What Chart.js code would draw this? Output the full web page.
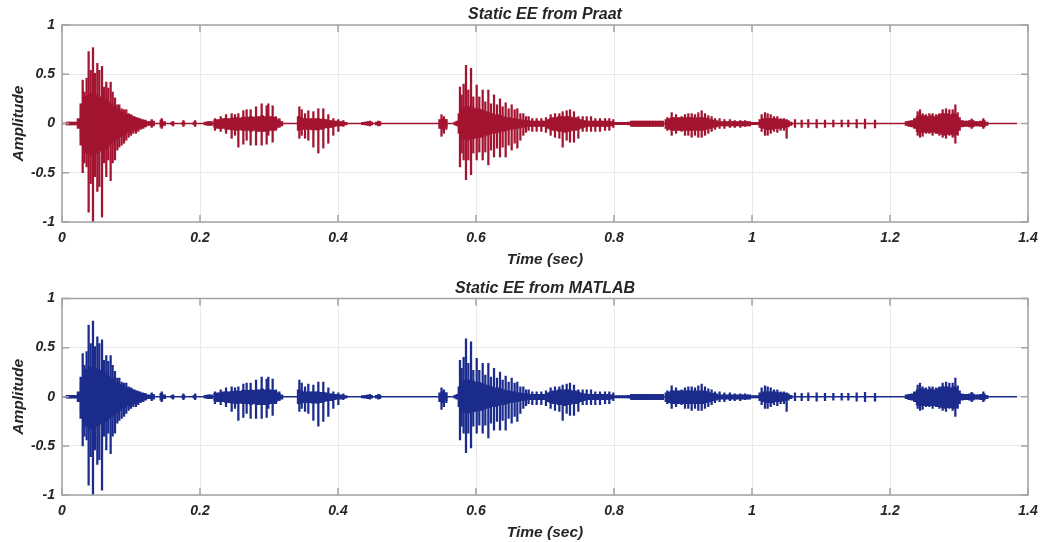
<!DOCTYPE html>
<html>
<head>
<meta charset="utf-8">
<script src="https://cdn.jsdelivr.net/npm/chart.js@4.4.1/dist/chart.umd.min.js"></script>
<style>
  html, body { margin: 0; padding: 0; background: #fff; }
  .panel { position: absolute; left: 0; width: 1040px; height: 271px; }
  #p1 { top: 0; }
  #p2 { top: 271px; }
</style>
</head>
<body>
<div class="panel" id="p1"><canvas id="c1"></canvas></div>
<div class="panel" id="p2"><canvas id="c2"></canvas></div>
<script>
// Axis ticks
const xTicks = [0, 0.2, 0.4, 0.6, 0.8, 1, 1.2, 1.4];
const xTickLabels = ['0', '0.2', '0.4', '0.6', '0.8', '1', '1.2', '1.4'];
const yTicks = [-1, -0.5, 0, 0.5, 1];
const yTickLabels = ['-1', '-0.5', '0', '0.5', '1'];

// Length of the excitation signal (s)
const signalEnd = 1.384;

// Glottal pulses: [time (s), positive peak, negative peak]
const pulses = [
  [0.0275, 0.14, -0.15], [0.0300, 0.44, -0.50], [0.0324, 0.32, -0.40], [0.0357, 0.46, -0.44],
  [0.0386, 0.73, -0.90], [0.0416, 0.54, -0.61], [0.0449, 0.77, -1.00], [0.0478, 0.51, -0.54],
  [0.0512, 0.61, -0.69], [0.0541, 0.54, -0.64], [0.0580, 0.58, -0.95], [0.0609, 0.37, -0.40],
  [0.0642, 0.42, -0.54], [0.0671, 0.36, -0.37], [0.0705, 0.42, -0.58], [0.0734, 0.32, -0.40],
  [0.0768, 0.26, -0.37], [0.0802, 0.19, -0.27], [0.0831, 0.19, -0.24], [0.0865, 0.15, -0.22],
  [0.0899, 0.14, -0.20], [0.0932, 0.14, -0.17], [0.0966, 0.10, -0.14], [0.1000, 0.09, -0.12],
  [0.1034, 0.07, -0.10], [0.1072, 0.05, -0.10], [0.1106, 0.05, -0.08], [0.1140, 0.035, -0.06],
  [0.1179, 0.025, -0.05], [0.1217, 0.018, -0.03],
  [0.1300, 0.04, -0.04], [0.1445, 0.05, -0.05], [0.1610, 0.02, -0.025], [0.1760, 0.03, -0.03],
  [0.1930, 0.03, -0.03],
  [0.2217, 0.05, -0.07], [0.2300, 0.07, -0.08], [0.2377, 0.09, -0.10], [0.2459, 0.10, -0.15],
  [0.2507, 0.09, -0.12], [0.2556, 0.10, -0.24], [0.2628, 0.13, -0.21], [0.2676, 0.14, -0.17],
  [0.2734, 0.14, -0.22], [0.2812, 0.17, -0.22], [0.2894, 0.20, -0.22], [0.2966, 0.18, -0.21],
  [0.2990, 0.20, -0.12], [0.3053, 0.18, -0.19], [0.3101, 0.07, -0.07], [0.3150, 0.05, -0.04],
  [0.3440, 0.17, -0.15], [0.3474, 0.14, -0.12], [0.3522, 0.10, -0.15], [0.3570, 0.13, -0.17],
  [0.3643, 0.12, -0.24], [0.3715, 0.15, -0.30], [0.3787, 0.15, -0.25], [0.3860, 0.09, -0.20],
  [0.3932, 0.05, -0.12], [0.4005, 0.04, -0.08], [0.4077, 0.03, -0.03],
  [0.4464, 0.025, -0.025], [0.4585, 0.025, -0.025],
  [0.5500, 0.09, -0.13], [0.5535, 0.07, -0.10], [0.5570, 0.04, -0.06], [0.5720, 0.025, -0.025],
  [0.5768, 0.37, -0.44], [0.5792, 0.29, -0.30], [0.5821, 0.40, -0.37], [0.5855, 0.59, -0.57],
  [0.5889, 0.34, -0.37], [0.5928, 0.56, -0.52], [0.5961, 0.27, -0.30], [0.6010, 0.39, -0.37],
  [0.6048, 0.27, -0.29], [0.6097, 0.34, -0.37], [0.6135, 0.22, -0.29], [0.6179, 0.34, -0.42],
  [0.6217, 0.20, -0.27], [0.6261, 0.29, -0.34], [0.6304, 0.19, -0.25], [0.6348, 0.25, -0.34],
  [0.6386, 0.17, -0.24], [0.6430, 0.21, -0.34], [0.6473, 0.15, -0.22], [0.6517, 0.19, -0.27],
  [0.6560, 0.14, -0.20], [0.6599, 0.15, -0.25], [0.6643, 0.10, -0.17], [0.6686, 0.10, -0.12],
  [0.6725, 0.07, -0.09], [0.6763, 0.07, -0.07], [0.6816, 0.05, -0.08], [0.6879, 0.05, -0.08],
  [0.6947, 0.05, -0.08], [0.7014, 0.06, -0.09], [0.7082, 0.09, -0.12], [0.7145, 0.10, -0.14],
  [0.7208, 0.10, -0.15], [0.7256, 0.12, -0.24], [0.7314, 0.13, -0.17], [0.7362, 0.14, -0.19],
  [0.7420, 0.12, -0.19], [0.7483, 0.07, -0.15], [0.7546, 0.07, -0.08], [0.7604, 0.07, -0.08],
  [0.7667, 0.07, -0.08], [0.7729, 0.05, -0.08], [0.7797, 0.05, -0.08], [0.7870, 0.05, -0.07],
  [0.7932, 0.05, -0.07], [0.7990, 0.04, -0.04],
  [0.8773, 0.06, -0.07], [0.8836, 0.11, -0.12], [0.8899, 0.09, -0.10], [0.8980, 0.07, -0.08],
  [0.9029, 0.09, -0.12], [0.9077, 0.10, -0.12], [0.9126, 0.10, -0.14], [0.9174, 0.09, -0.12],
  [0.9222, 0.11, -0.14], [0.9271, 0.13, -0.14], [0.9319, 0.10, -0.12], [0.9367, 0.08, -0.10],
  [0.9415, 0.07, -0.08], [0.9464, 0.05, -0.06], [0.9530, 0.05, -0.05], [0.9600, 0.04, -0.05],
  [0.9680, 0.04, -0.04], [0.9750, 0.03, -0.04], [0.9830, 0.03, -0.04], [0.9900, 0.03, -0.03],
  [1.0140, 0.09, -0.08], [1.0188, 0.11, -0.12], [1.0227, 0.10, -0.12], [1.0271, 0.09, -0.10],
  [1.0319, 0.07, -0.08], [1.0367, 0.07, -0.09], [1.0415, 0.05, -0.07], [1.0464, 0.05, -0.07],
  [1.0502, 0.04, -0.15], [1.0623, 0.04, -0.04], [1.0720, 0.035, -0.04], [1.0816, 0.04, -0.04],
  [1.0937, 0.04, -0.045], [1.1058, 0.035, -0.04], [1.1179, 0.035, -0.035], [1.1300, 0.035, -0.035],
  [1.1396, 0.035, -0.035], [1.1517, 0.04, -0.045], [1.1638, 0.045, -0.05], [1.1783, 0.035, -0.045],
  [1.2401, 0.12, -0.12], [1.2435, 0.14, -0.14], [1.2473, 0.10, -0.13], [1.2522, 0.09, -0.10],
  [1.2570, 0.10, -0.10], [1.2618, 0.10, -0.12], [1.2667, 0.09, -0.10], [1.2715, 0.10, -0.12],
  [1.2763, 0.14, -0.14], [1.2812, 0.15, -0.15], [1.2860, 0.14, -0.12], [1.2908, 0.14, -0.14],
  [1.2947, 0.19, -0.20], [1.2981, 0.11, -0.12], [1.3184, 0.045, -0.05], [1.3353, 0.05, -0.05]
];

// Short-time envelope of the dense part, 4 ms frames: [time (s), max, min]
const frames = [
  [0.008, 0.015, -0.015], [0.012, 0.015, -0.015], [0.016, 0.015, -0.015], [0.020, 0.015, -0.015],
  [0.024, 0.05, -0.05], [0.028, 0.20, -0.22], [0.032, 0.26, -0.28], [0.036, 0.28, -0.30],
  [0.040, 0.30, -0.32], [0.044, 0.30, -0.33], [0.048, 0.29, -0.30], [0.052, 0.28, -0.30],
  [0.056, 0.27, -0.28], [0.060, 0.26, -0.27], [0.064, 0.24, -0.25], [0.068, 0.21, -0.22],
  [0.072, 0.19, -0.20], [0.076, 0.17, -0.18], [0.080, 0.15, -0.16], [0.084, 0.13, -0.14],
  [0.088, 0.12, -0.12], [0.092, 0.10, -0.11], [0.096, 0.09, -0.09], [0.100, 0.08, -0.08],
  [0.104, 0.07, -0.07], [0.108, 0.06, -0.06], [0.112, 0.05, -0.05], [0.116, 0.04, -0.045],
  [0.120, 0.035, -0.035], [0.124, 0.02, -0.02],
  [0.128, 0.02, -0.02], [0.132, 0.025, -0.025], [0.144, 0.035, -0.035], [0.148, 0.02, -0.02],
  [0.160, 0.015, -0.015], [0.176, 0.015, -0.015], [0.192, 0.015, -0.015],
  [0.208, 0.015, -0.015], [0.212, 0.02, -0.02], [0.216, 0.02, -0.02],
  [0.222, 0.035, -0.04], [0.226, 0.04, -0.05], [0.230, 0.04, -0.05], [0.234, 0.05, -0.05],
  [0.238, 0.05, -0.06], [0.242, 0.05, -0.06], [0.246, 0.055, -0.065], [0.250, 0.055, -0.065],
  [0.254, 0.06, -0.07], [0.258, 0.055, -0.065], [0.262, 0.065, -0.07], [0.266, 0.065, -0.07],
  [0.270, 0.065, -0.07], [0.274, 0.07, -0.08], [0.278, 0.065, -0.07], [0.282, 0.07, -0.08],
  [0.286, 0.07, -0.08], [0.290, 0.08, -0.08], [0.294, 0.07, -0.08], [0.298, 0.08, -0.08],
  [0.302, 0.07, -0.07], [0.306, 0.065, -0.07], [0.310, 0.05, -0.05], [0.314, 0.035, -0.035],
  [0.318, 0.02, -0.025],
  [0.343, 0.07, -0.07], [0.347, 0.06, -0.065], [0.351, 0.05, -0.06], [0.355, 0.05, -0.06],
  [0.359, 0.05, -0.06], [0.363, 0.05, -0.065], [0.367, 0.05, -0.065], [0.371, 0.05, -0.065],
  [0.375, 0.045, -0.06], [0.379, 0.045, -0.05], [0.383, 0.04, -0.045], [0.387, 0.03, -0.04],
  [0.391, 0.03, -0.04], [0.395, 0.025, -0.03], [0.399, 0.025, -0.025], [0.403, 0.02, -0.025],
  [0.407, 0.015, -0.02], [0.411, 0.012, -0.015],
  [0.436, 0.012, -0.012], [0.440, 0.015, -0.015], [0.444, 0.02, -0.02], [0.448, 0.015, -0.015],
  [0.456, 0.015, -0.015], [0.460, 0.02, -0.02],
  [0.548, 0.04, -0.05], [0.552, 0.05, -0.06], [0.556, 0.04, -0.04], [0.570, 0.015, -0.015],
  [0.574, 0.02, -0.02],
  [0.576, 0.10, -0.10], [0.580, 0.15, -0.15], [0.584, 0.17, -0.16], [0.588, 0.17, -0.17],
  [0.592, 0.17, -0.16], [0.596, 0.16, -0.15], [0.600, 0.15, -0.15], [0.604, 0.15, -0.14],
  [0.608, 0.14, -0.14], [0.612, 0.13, -0.13], [0.616, 0.12, -0.12], [0.620, 0.11, -0.11],
  [0.624, 0.10, -0.10], [0.628, 0.09, -0.10], [0.632, 0.09, -0.09], [0.636, 0.08, -0.08],
  [0.640, 0.07, -0.08], [0.644, 0.06, -0.07], [0.648, 0.06, -0.06], [0.652, 0.05, -0.06],
  [0.656, 0.05, -0.05], [0.660, 0.04, -0.05], [0.664, 0.04, -0.04], [0.668, 0.035, -0.04],
  [0.672, 0.03, -0.035], [0.676, 0.03, -0.03], [0.680, 0.025, -0.03], [0.684, 0.025, -0.03],
  [0.688, 0.025, -0.03], [0.692, 0.025, -0.03], [0.696, 0.025, -0.03], [0.700, 0.025, -0.03],
  [0.704, 0.04, -0.05], [0.708, 0.05, -0.06], [0.712, 0.06, -0.07], [0.716, 0.06, -0.07],
  [0.720, 0.07, -0.08], [0.724, 0.07, -0.08], [0.728, 0.07, -0.09], [0.732, 0.07, -0.08],
  [0.736, 0.07, -0.08], [0.740, 0.06, -0.07], [0.744, 0.06, -0.07], [0.748, 0.05, -0.06],
  [0.752, 0.04, -0.05], [0.756, 0.03, -0.04], [0.760, 0.03, -0.03], [0.764, 0.025, -0.03],
  [0.768, 0.025, -0.03], [0.772, 0.025, -0.03], [0.776, 0.025, -0.03], [0.780, 0.025, -0.03],
  [0.784, 0.025, -0.03], [0.788, 0.025, -0.03], [0.792, 0.025, -0.03], [0.796, 0.02, -0.025],
  [0.802, 0.012, -0.012], [0.806, 0.012, -0.012], [0.810, 0.012, -0.012], [0.814, 0.012, -0.012],
  [0.818, 0.012, -0.012], [0.822, 0.015, -0.015],
  [0.826, 0.025, -0.03], [0.830, 0.025, -0.03], [0.834, 0.025, -0.03], [0.838, 0.025, -0.03],
  [0.842, 0.025, -0.03], [0.846, 0.025, -0.03], [0.850, 0.025, -0.03], [0.854, 0.025, -0.03],
  [0.858, 0.025, -0.03], [0.862, 0.025, -0.03], [0.866, 0.025, -0.03], [0.870, 0.025, -0.03],
  [0.876, 0.04, -0.05], [0.880, 0.05, -0.06], [0.884, 0.06, -0.07], [0.888, 0.06, -0.07],
  [0.892, 0.06, -0.07], [0.896, 0.06, -0.07], [0.900, 0.06, -0.07], [0.904, 0.06, -0.07],
  [0.908, 0.06, -0.07], [0.912, 0.06, -0.07], [0.916, 0.06, -0.07], [0.920, 0.06, -0.07],
  [0.924, 0.06, -0.07], [0.928, 0.06, -0.07], [0.932, 0.055, -0.06], [0.936, 0.05, -0.055],
  [0.940, 0.04, -0.05], [0.944, 0.035, -0.04], [0.948, 0.03, -0.035], [0.952, 0.02, -0.025],
  [0.956, 0.02, -0.025], [0.960, 0.02, -0.025], [0.964, 0.02, -0.025], [0.968, 0.02, -0.025],
  [0.972, 0.02, -0.025], [0.976, 0.02, -0.025], [0.980, 0.02, -0.025], [0.984, 0.02, -0.025],
  [0.988, 0.02, -0.025], [0.992, 0.02, -0.025], [0.996, 0.02, -0.025],
  [1.000, 0.012, -0.012], [1.004, 0.012, -0.012], [1.008, 0.012, -0.012],
  [1.012, 0.04, -0.04], [1.016, 0.05, -0.05], [1.020, 0.05, -0.06], [1.024, 0.05, -0.06],
  [1.028, 0.05, -0.06], [1.032, 0.05, -0.05], [1.036, 0.045, -0.05], [1.040, 0.04, -0.05],
  [1.044, 0.04, -0.045], [1.048, 0.035, -0.04], [1.052, 0.03, -0.035], [1.056, 0.015, -0.02],
  [1.224, 0.02, -0.02], [1.228, 0.025, -0.03], [1.232, 0.03, -0.035], [1.236, 0.05, -0.05],
  [1.240, 0.07, -0.08], [1.244, 0.08, -0.09], [1.248, 0.08, -0.09], [1.252, 0.07, -0.08],
  [1.256, 0.07, -0.09], [1.260, 0.08, -0.09], [1.264, 0.07, -0.09], [1.268, 0.08, -0.10],
  [1.272, 0.09, -0.10], [1.276, 0.10, -0.11], [1.280, 0.10, -0.12], [1.284, 0.10, -0.11],
  [1.288, 0.09, -0.11], [1.292, 0.10, -0.12], [1.296, 0.09, -0.11], [1.300, 0.06, -0.07],
  [1.304, 0.03, -0.035], [1.308, 0.025, -0.03], [1.312, 0.025, -0.03], [1.316, 0.03, -0.035],
  [1.320, 0.03, -0.035], [1.324, 0.02, -0.025], [1.328, 0.02, -0.025], [1.332, 0.025, -0.03],
  [1.336, 0.03, -0.035], [1.340, 0.015, -0.02]
];

const FONT = "'Liberation Sans', Arial, Helvetica, sans-serif";
const TEXT = '#262626';

// MATLAB-style axes box with inward tick marks, and a title centred over the axes
const axesBox = {
  id: 'axesBox',
  afterDatasetsDraw(chart, args, opts) {
    const { ctx, chartArea: a, scales: { x, y } } = chart;
    const L = 7;
    ctx.save();
    ctx.strokeStyle = '#a3a3a3';
    ctx.lineWidth = 1.5;
    ctx.strokeRect(a.left, a.top, a.right - a.left, a.bottom - a.top);
    ctx.beginPath();
    xTicks.forEach(v => {
      const px = x.getPixelForValue(v);
      ctx.moveTo(px, a.bottom); ctx.lineTo(px, a.bottom - L);
      ctx.moveTo(px, a.top); ctx.lineTo(px, a.top + L);
    });
    yTicks.forEach(v => {
      const py = y.getPixelForValue(v);
      ctx.moveTo(a.left, py); ctx.lineTo(a.left + L, py);
      ctx.moveTo(a.right, py); ctx.lineTo(a.right - L, py);
    });
    ctx.stroke();
    ctx.fillStyle = TEXT;
    ctx.font = "italic bold 16px " + FONT;
    ctx.textAlign = 'center';
    ctx.textBaseline = 'middle';
    ctx.fillText(opts.text, (a.left + a.right) / 2, opts.y);
    ctx.restore();
  }
};

function makePanel(canvasId, title, color, lay) {
  return new Chart(document.getElementById(canvasId), {
    data: {
      datasets: [
        {
          type: 'line',
          data: [{ x: 0, y: 0 }, { x: signalEnd, y: 0 }],
          borderColor: color, borderWidth: 1.5, pointRadius: 0, order: 3
        },
        {
          type: 'bar',
          data: frames.map(f => ({ x: f[0], y: [f[2], f[1]] })),
          backgroundColor: color, barThickness: 3, grouped: false, borderWidth: 0, order: 2
        },
        {
          type: 'bar',
          data: pulses.map(p => ({ x: p[0], y: [p[2], p[1]] })),
          backgroundColor: color, barThickness: 1.6, grouped: false, borderWidth: 0, order: 1
        }
      ]
    },
    options: {
      responsive: true,
      maintainAspectRatio: false,
      animation: false,
      events: [],
      layout: { padding: { left: 0, right: 12, top: lay.top, bottom: 0 } },
      plugins: {
        legend: { display: false },
        tooltip: { enabled: false },
        title: { display: false },
        axesBox: { text: title, y: lay.titleY }
      },
      scales: {
        x: {
          type: 'linear', min: 0, max: 1.4, offset: false,
          afterBuildTicks: s => { s.ticks = xTicks.map(v => ({ value: v })); },
          afterFit: s => { s.height = lay.xHeight; s.paddingLeft = 0; s.paddingRight = 0; },
          grid: { color: '#e9e9e9', lineWidth: 1, drawTicks: false, offset: false },
          border: { display: false },
          ticks: {
            padding: 8, color: TEXT, maxRotation: 0, autoSkip: false,
            font: { family: FONT, size: 14, weight: 'bold', style: 'italic' },
            callback: (v, i) => xTickLabels[i]
          },
          title: {
            display: true, text: 'Time (sec)', color: TEXT,
            font: { family: FONT, size: 15.5, weight: 'bold', style: 'italic' },
            padding: { top: 0, bottom: lay.xTitleBottom }
          }
        },
        y: {
          type: 'linear', min: -1, max: 1,
          afterBuildTicks: s => { s.ticks = yTicks.map(v => ({ value: v })); },
          afterFit: s => { s.width = 62; },
          grid: { color: '#e9e9e9', lineWidth: 1, drawTicks: false },
          border: { display: false },
          ticks: {
            padding: 7, color: TEXT,
            font: { family: FONT, size: 14, weight: 'bold', style: 'italic' },
            callback: (v, i) => yTickLabels[i]
          },
          title: {
            display: true, text: 'Amplitude', color: TEXT,
            font: { family: FONT, size: 15.5, weight: 'bold', style: 'italic' },
            padding: { top: 9.5, bottom: 0 }
          }
        }
      }
    },
    plugins: [axesBox]
  });
}

makePanel('c1', 'Static EE from Praat', 'rgb(163, 20, 48)',
  { top: 25, titleY: 15, xHeight: 49, xTitleBottom: 2.4 });
makePanel('c2', 'Static EE from MATLAB', 'rgb(28, 44, 140)',
  { top: 27.5, titleY: 17.5, xHeight: 47, xTitleBottom: 0.4 });
</script>
</body>
</html>
